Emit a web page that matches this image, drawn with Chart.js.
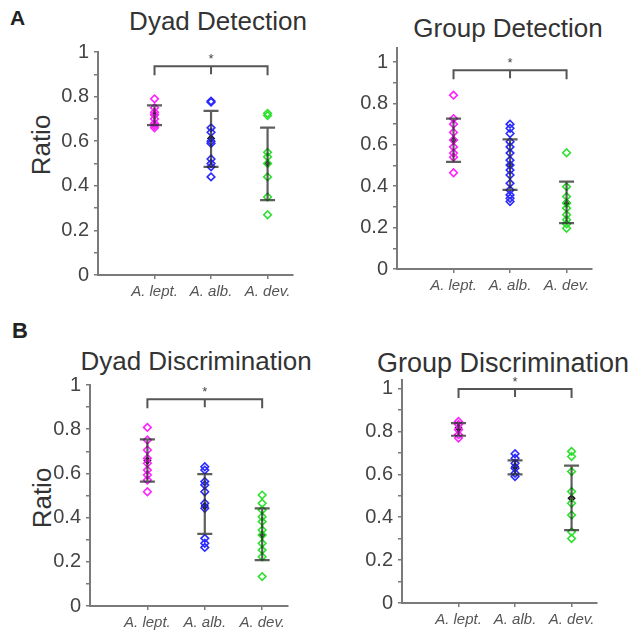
<!DOCTYPE html>
<html>
<head>
<meta charset="utf-8">
<title>Detection / Discrimination ratios</title>
<script src="https://cdn.jsdelivr.net/npm/chart.js"></script>
<style>
  body { margin: 0; background: #fff; }
  #wrap { position: relative; width: 629px; height: 632px; overflow: hidden; font-family: Arial, "Liberation Sans", sans-serif; color: #333; }
  canvas { position: absolute; }
  .txt { position: absolute; white-space: nowrap; line-height: 1; }
  .letter { font-weight: bold; font-size: 21px; color: #222; }
  .title { font-size: 26px; }
  .ratio { font-size: 26px; transform: translate(-50%, -50%) rotate(-90deg); }
</style>
</head>
<body>
<div id="wrap">
  <div class="txt letter" style="left:10px;top:7px;">A</div>
  <div class="txt letter" style="left:12px;top:320px;font-size:22px;">B</div>
  <div class="txt title" style="left:218px;top:8px;transform:translateX(-50%);">Dyad Detection</div>
  <div class="txt title" style="left:508px;top:15px;transform:translateX(-50%);">Group Detection</div>
  <div class="txt title" style="left:196px;top:348px;transform:translateX(-50%);">Dyad Discrimination</div>
  <div class="txt title" style="left:377px;top:350px;font-size:27px;">Group Discrimination</div>
  <div class="txt ratio" style="left:41px;top:145px;">Ratio</div>
  <div class="txt ratio" style="left:42px;top:498px;">Ratio</div>
  <canvas id="c1" width="310" height="310" style="left:0;top:0;"></canvas>
  <canvas id="c2" width="314" height="310" style="left:315px;top:0;"></canvas>
  <canvas id="c3" width="310" height="322" style="left:0;top:310px;"></canvas>
  <canvas id="c4" width="314" height="322" style="left:315px;top:310px;"></canvas>
</div>
<script>
// categories and y ticks
const categories = ['A. lept.', 'A. alb.', 'A. dev.'];
const yTicks = [0, 0.1, 0.2, 0.3, 0.4, 0.5, 0.6, 0.7, 0.8, 0.9, 1];
const colors = ['#ff22ff', '#2a2aff', '#2ee02e'];

// Dyad Detection
const ddLept = [0.79, 0.75, 0.73, 0.72, 0.70, 0.68, 0.67, 0.66];
const ddAlb = [0.78, 0.775, 0.66, 0.64, 0.60, 0.59, 0.52, 0.50, 0.485, 0.44];
const ddDev = [0.725, 0.715, 0.55, 0.53, 0.50, 0.44, 0.35, 0.27];
const ddMean = [0.716, 0.612, 0.50];
const ddLow = [0.672, 0.485, 0.336];
const ddHigh = [0.761, 0.736, 0.661];
const ddSig = 0.936;

// Group Detection
const gdLept = [0.84, 0.727, 0.70, 0.66, 0.623, 0.59, 0.56, 0.54, 0.465];
const gdAlb = [0.70, 0.68, 0.655, 0.615, 0.59, 0.56, 0.526, 0.502, 0.478, 0.454, 0.414, 0.382, 0.358, 0.342, 0.326];
const gdDev = [0.562, 0.398, 0.35, 0.318, 0.294, 0.262, 0.238, 0.218, 0.197];
const gdMean = [0.623, 0.502, 0.321];
const gdLow = [0.518, 0.382, 0.222];
const gdHigh = [0.727, 0.626, 0.422];
const gdSig = 0.96;

// Dyad Discrimination
const dcLept = [0.808, 0.751, 0.706, 0.668, 0.646, 0.615, 0.593, 0.57, 0.517];
const dcAlb = [0.63, 0.615, 0.563, 0.548, 0.517, 0.465, 0.442, 0.306, 0.284, 0.265];
const dcDev = [0.502, 0.465, 0.434, 0.404, 0.382, 0.344, 0.321, 0.284, 0.253, 0.223, 0.133];
const dcMean = [0.658, 0.452, 0.321];
const dcLow = [0.563, 0.326, 0.208];
const dcHigh = [0.754, 0.597, 0.442];
const dcSig = 0.935;

// Group Discrimination
const gcLept = [0.847, 0.832, 0.808, 0.785, 0.769];
const gcAlb = [0.696, 0.675, 0.652, 0.629, 0.605, 0.59];
const gcDev = [0.707, 0.683, 0.613, 0.52, 0.465, 0.41, 0.332, 0.301];
const gcMean = [0.816, 0.637, 0.488];
const gcLow = [0.78, 0.60, 0.34];
const gcHigh = [0.839, 0.665, 0.641];
const gcSig = 0.998;

const axisColor = '#7a7a7a';
const font = 'Arial, "Liberation Sans", sans-serif';

// error bars + significance bracket, drawn through the chart scales
const extrasPlugin = {
  id: 'extras',
  afterDatasetsDraw(chart, args, opts) {
    const { ctx, scales: { x, y } } = chart;
    ctx.save();
    ctx.strokeStyle = 'rgba(40,40,40,0.75)';
    ctx.lineWidth = 2.2;
    opts.low.forEach((lo, i) => {
      const px = x.getPixelForValue(i);
      const y1 = y.getPixelForValue(lo), y2 = y.getPixelForValue(opts.high[i]);
      ctx.beginPath();
      ctx.moveTo(px, y1); ctx.lineTo(px, y2);
      ctx.moveTo(px - 7.5, y1); ctx.lineTo(px + 7.5, y1);
      ctx.moveTo(px - 7.5, y2); ctx.lineTo(px + 7.5, y2);
      ctx.stroke();
    });
    ctx.restore();
  },
  afterDraw(chart, args, opts) {
    const { ctx, scales: { x, y } } = chart;
    const by = y.getPixelForValue(opts.sig);
    const x0 = x.getPixelForValue(0), x1 = x.getPixelForValue(1), x2 = x.getPixelForValue(2);
    ctx.save();
    ctx.strokeStyle = '#555';
    ctx.lineWidth = 2;
    ctx.beginPath();
    ctx.moveTo(x0, by + 9); ctx.lineTo(x0, by); ctx.lineTo(x2, by); ctx.lineTo(x2, by + 9);
    ctx.moveTo(x1, by); ctx.lineTo(x1, by + 8);
    ctx.stroke();
    ctx.fillStyle = '#444';
    ctx.font = '13px ' + font;
    ctx.textAlign = 'center';
    ctx.fillText('*', x1, by - 3);
    ctx.restore();
  }
};

function makePanel(id, box, pts, mean, low, high, sig) {
  const datasets = pts.map((arr, i) => ({
    data: arr.map(v => ({ x: i, y: v })),
    pointStyle: 'rectRot',
    pointRadius: 3.8,
    borderWidth: 1.6,
    borderColor: colors[i],
    backgroundColor: 'rgba(0,0,0,0)'
  }));
  datasets.push({
    data: mean.map((v, i) => ({ x: i, y: v })),
    pointStyle: 'rectRot',
    pointRadius: 3.2,
    borderWidth: 1.4,
    borderColor: '#111',
    backgroundColor: 'rgba(40,40,40,0.6)'
  });
  new Chart(document.getElementById(id), {
    type: 'scatter',
    data: { datasets },
    plugins: [extrasPlugin],
    options: {
      responsive: false,
      animation: false,
      layout: { padding: { top: box.top, right: box.right, left: 0, bottom: 0 } },
      plugins: {
        legend: { display: false },
        tooltip: { enabled: false },
        extras: { low, high, sig }
      },
      scales: {
        x: {
          type: 'linear', min: -1, max: 2.45,
          afterBuildTicks: s => { s.ticks = categories.map((c, i) => ({ value: i })); },
          afterFit: s => { s.height = box.xh; },
          ticks: {
            callback: v => categories[v],
            color: '#555', padding: 4,
            font: { family: font, size: 15, style: 'italic' },
            maxRotation: 0, autoSkip: false
          },
          grid: { drawOnChartArea: false, drawTicks: true, tickLength: 4, color: axisColor, lineWidth: 1.5 },
          border: { display: true, color: axisColor, width: 2 }
        },
        y: {
          min: 0, max: box.ymax,
          afterBuildTicks: s => { s.ticks = yTicks.map(v => ({ value: v })); },
          afterFit: s => { s.width = box.yw; },
          ticks: {
            callback: v => (Math.round(v * 10) % 2 === 0 ? String(Math.round(v * 10) / 10) : ''),
            color: '#444', padding: 5,
            font: { family: font, size: 20 },
            autoSkip: false
          },
          grid: { drawOnChartArea: false, drawTicks: true, tickLength: 4, color: axisColor, lineWidth: 1.5 },
          border: { display: true, color: axisColor, width: 2 }
        }
      }
    }
  });
}

makePanel('c1', { top: 52, right: 17, yw: 98, xh: 35, ymax: 1.0 },
  [ddLept, ddAlb, ddDev], ddMean, ddLow, ddHigh, ddSig);
makePanel('c2', { top: 48, right: 37, yw: 82, xh: 41, ymax: 1.068 },
  [gdLept, gdAlb, gdDev], gdMean, gdLow, gdHigh, gdSig);
makePanel('c3', { top: 75, right: 22, yw: 90, xh: 26, ymax: 1.0 },
  [dcLept, dcAlb, dcDev], dcMean, dcLow, dcHigh, dcSig);
makePanel('c4', { top: 70, right: 32, yw: 87, xh: 29, ymax: 1.04 },
  [gcLept, gcAlb, gcDev], gcMean, gcLow, gcHigh, gcSig);
</script>
</body>
</html>
